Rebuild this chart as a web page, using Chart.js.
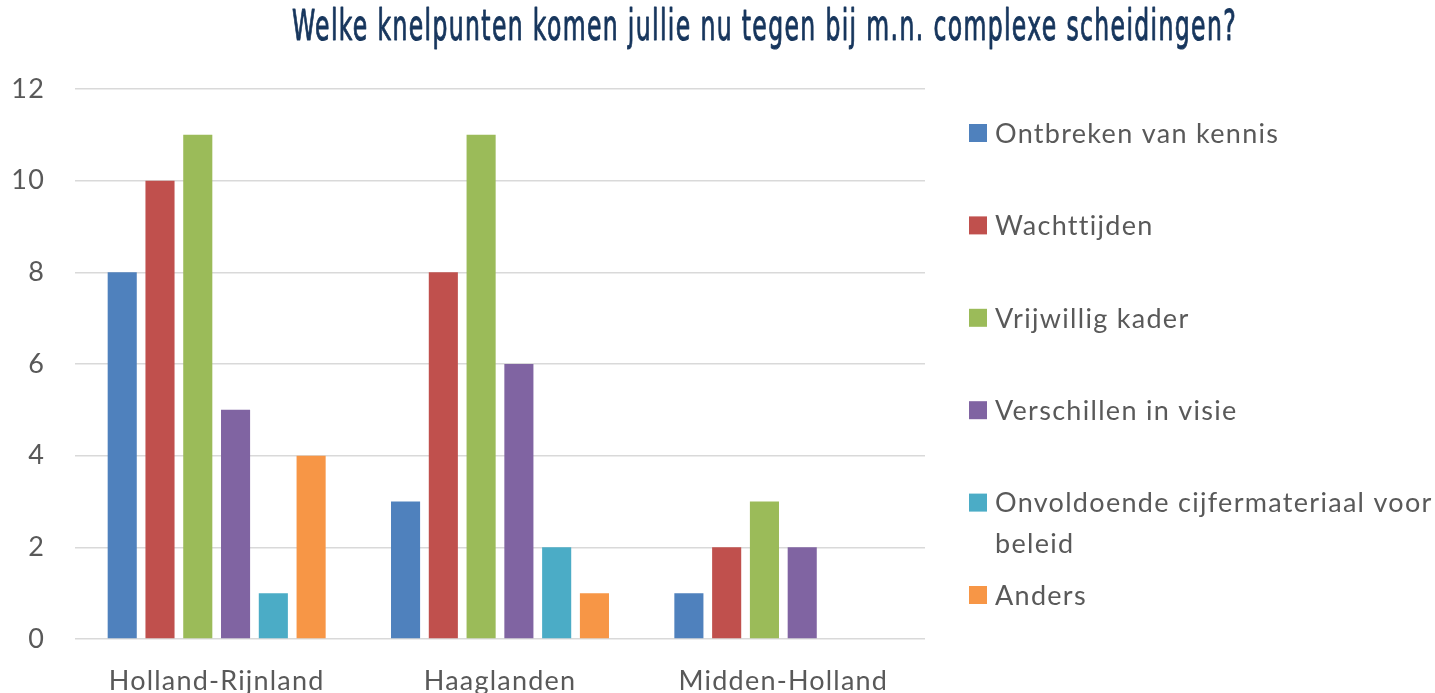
<!DOCTYPE html>
<html><head><meta charset="utf-8">
<script src="https://cdn.jsdelivr.net/npm/chart.js@4.4.1/dist/chart.umd.min.js"></script>
<style>html,body{margin:0;padding:0;background:#fff;overflow:hidden}#wrap{width:1435px;height:693px;position:relative}</style>
</head><body><div id="wrap"><canvas id="c" width="1435" height="693"></canvas></div>
<script>
const TITLE = "Welke knelpunten komen jullie nu tegen bij m.n. complexe scheidingen?";
const categories = ["Holland-Rijnland", "Haaglanden", "Midden-Holland"];
const seriesNames = ["Ontbreken van kennis", "Wachttijden", "Vrijwillig kader", "Verschillen in visie", "Onvoldoende cijfermateriaal voor beleid", "Anders"];
const ontbrekenVanKennis = [8, 3, 1];
const wachttijden = [10, 8, 2];
const vrijwilligKader = [11, 11, 3];
const verschillenInVisie = [5, 6, 2];
const onvoldoendeCijfermateriaal = [1, 2, 0];
const anders = [4, 1, 0];
const yTicks = [0, 2, 4, 6, 8, 10, 12];
const colors = ["#4F81BD", "#C0504D", "#9BBB59", "#8064A2", "#4BACC6", "#F79646"];

const seriesValues = [ontbrekenVanKennis, wachttijden, vrijwilligKader, verschillenInVisie, onvoldoendeCijfermateriaal, anders];
const TEXT = "#595959";
const BODY_FONT = "Lato, 'Open Sans', sans-serif";

const overlay = {
  id: 'overlay',
  beforeDraw(chart) {
    chart.ctx.letterSpacing = "1.2px";
  },
  afterDraw(chart) {
    const ctx = chart.ctx;
    // title
    ctx.save();
    ctx.letterSpacing = "2px";
    ctx.fillStyle = "#17365D";
    ctx.strokeStyle = "#17365D";
    ctx.lineWidth = 0.9;
    ctx.lineJoin = "round";
    ctx.font = "38px 'Liberation Sans Narrow', 'DejaVu Sans Condensed', sans-serif";
    ctx.textBaseline = "alphabetic";
    ctx.textAlign = "left";
    const w = ctx.measureText(TITLE).width;
    const targetW = 945;
    ctx.translate(292, 40);
    ctx.scale(targetW / w, 1.1);
    ctx.fillText(TITLE, 0, 0);
    ctx.strokeText(TITLE, 0, 0);
    ctx.restore();
    // legend
    ctx.save();
    ctx.letterSpacing = "1.3px";
    ctx.font = "27px " + BODY_FONT;
    ctx.fillStyle = TEXT;
    ctx.textBaseline = "middle";
    ctx.textAlign = "left";
    const x0 = 969, tx = 995, maxW = 1435 - tx;
    chart.data.datasets.forEach((ds, i) => {
      const yc = 133 + i * 92.4;
      ctx.fillStyle = ds.backgroundColor;
      ctx.fillRect(x0, yc - 9, 18, 18);
      ctx.fillStyle = TEXT;
      const words = ds.label.split(' ');
      let line = '', lines = [];
      words.forEach(wd => {
        const test = line ? line + ' ' + wd : wd;
        if (ctx.measureText(test).width > maxW && line) { lines.push(line); line = wd; }
        else line = test;
      });
      lines.push(line);
      lines.forEach((l, k) => ctx.fillText(l, tx, yc + 1 + k * 41));
    });
    ctx.restore();
  }
};

new Chart(document.getElementById('c'), {
  type: 'bar',
  data: {
    labels: categories,
    datasets: seriesNames.map((n, i) => ({
      label: n,
      data: seriesValues[i],
      backgroundColor: colors[i],
      borderWidth: 0,
      categoryPercentage: 0.8,
      barPercentage: 0.77
    }))
  },
  options: {
    responsive: false,
    animation: false,
    layout: { padding: { top: 89, right: 510, left: 0, bottom: 0 } },
    plugins: { legend: { display: false }, title: { display: false }, tooltip: { enabled: false } },
    scales: {
      x: {
        grid: { display: false, drawTicks: false },
        border: { display: false },
        ticks: { color: TEXT, font: { family: BODY_FONT, size: 27 }, padding: 26, maxRotation: 0 },
        afterFit(s) { s.height = 54; }
      },
      y: {
        min: 0, max: 12,
        afterBuildTicks(s) { s.ticks = yTicks.map(v => ({ value: v })); },
        grid: { color: "#D9D9D9", lineWidth: 1.5, drawTicks: false },
        border: { display: false },
        ticks: { color: TEXT, font: { family: BODY_FONT, size: 27 }, padding: 30 },
        afterFit(s) { s.width = 75; }
      }
    }
  },
  plugins: [overlay]
});
</script>
</body></html>
